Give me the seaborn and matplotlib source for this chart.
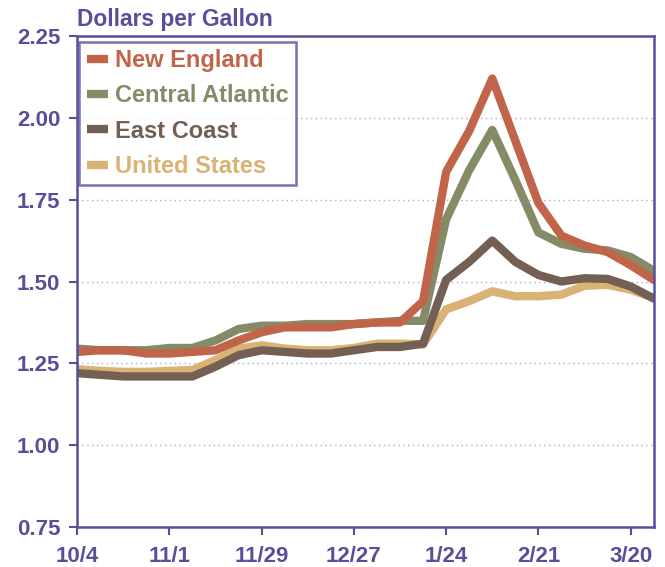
import numpy as np
import pandas as pd
import seaborn as sns
import matplotlib.pyplot as plt

sns.set_style("white")
plt.rcParams['font.family'] = ['Liberation Sans', 'DejaVu Sans']

# weekly prices, dollars per gallon
weeks = pd.date_range("1999-10-04", periods=26, freq="7D")
tick_labels = ["10/4", "11/1", "11/29", "12/27", "1/24", "2/21", "3/20"]

new_england = [1.285, 1.29, 1.29, 1.28, 1.28, 1.285, 1.29, 1.32, 1.345, 1.36, 1.36, 1.36, 1.37,
               1.375, 1.375, 1.44, 1.835, 1.96, 2.12, 1.93, 1.74, 1.64, 1.61, 1.59, 1.55, 1.505]
central_atlantic = [1.295, 1.29, 1.29, 1.29, 1.297, 1.297, 1.32, 1.355, 1.365, 1.365, 1.37, 1.37, 1.37,
                    1.375, 1.38, 1.38, 1.69, 1.84, 1.963, 1.81, 1.65, 1.615, 1.60, 1.595, 1.575, 1.533]
east_coast = [1.22, 1.215, 1.21, 1.21, 1.21, 1.21, 1.24, 1.275, 1.29, 1.285, 1.28, 1.28, 1.29,
              1.30, 1.30, 1.31, 1.505, 1.56, 1.625, 1.56, 1.52, 1.50, 1.51, 1.508, 1.485, 1.448]
united_states = [1.232, 1.227, 1.224, 1.224, 1.227, 1.23, 1.26, 1.295, 1.305, 1.295, 1.29, 1.29, 1.297,
                 1.31, 1.31, 1.308, 1.415, 1.44, 1.47, 1.455, 1.455, 1.46, 1.487, 1.49, 1.475, 1.45]

series = {
    "United States": united_states,
    "East Coast": east_coast,
    "Central Atlantic": central_atlantic,
    "New England": new_england,
}
colors = {
    "New England": "#C0654A",
    "Central Atlantic": "#858A67",
    "East Coast": "#735F53",
    "United States": "#D9B275",
}
legend_order = ["New England", "Central Atlantic", "East Coast", "United States"]

df = pd.concat([pd.DataFrame({"week": weeks, "price": v, "region": k}) for k, v in series.items()])

purple = "#56509A"
fig, ax = plt.subplots(figsize=(6.65, 5.67), dpi=100)
fig.subplots_adjust(left=0.116, right=0.983, bottom=0.0705, top=0.9365)

# dotted gridlines
for y in [1.0, 1.25, 1.5, 1.75, 2.0]:
    ax.axhline(y, color="#ABA8D4", lw=1.0, ls=(0, (1, 2.5)), zorder=0)

sns.lineplot(data=df, x="week", y="price", hue="region", palette=colors, lw=6,
             ax=ax, legend=False, sort=False)

ax.set_xlim(weeks[0], weeks[-1])
ax.set_ylim(0.75, 2.25)
ax.set_yticks([0.75, 1.0, 1.25, 1.5, 1.75, 2.0, 2.25])
ax.set_yticklabels(["%.2f" % t for t in ax.get_yticks()])
ax.set_xticks(weeks[::4])
ax.set_xticklabels(tick_labels)
ax.set_xlabel("")
ax.set_ylabel("")

for sp in ax.spines.values():
    sp.set_color(purple)
    sp.set_linewidth(1.8)
ax.tick_params(axis="both", direction="out", length=6, width=1.5, color=purple,
               labelcolor=purple, labelsize=16, left=True, bottom=True)
ax.tick_params(axis="y", pad=6)
ax.tick_params(axis="x", pad=8)
for lab in ax.get_xticklabels() + ax.get_yticklabels():
    lab.set_fontweight("bold")

ax.text(0.0, 1.01, "Dollars per Gallon", transform=ax.transAxes, ha="left", va="bottom",
        fontsize=16.4, fontweight="bold", color=purple)

handles = [plt.Line2D([], [], color=colors[r], lw=6, solid_capstyle="butt") for r in legend_order]
leg = ax.legend(handles, legend_order, loc="upper left", bbox_to_anchor=(0.004, 0.988),
                borderaxespad=0, frameon=True, fancybox=False,
                handlelength=0.9, handletextpad=0.3, labelspacing=0.52, borderpad=0.3,
                prop={"weight": "bold", "size": 17})
leg.get_frame().set_edgecolor(purple)
leg.get_frame().set_linewidth(1.8)
for txt, r in zip(leg.get_texts(), legend_order):
    txt.set_color(colors[r])

fig.savefig("out.png", dpi=100)
